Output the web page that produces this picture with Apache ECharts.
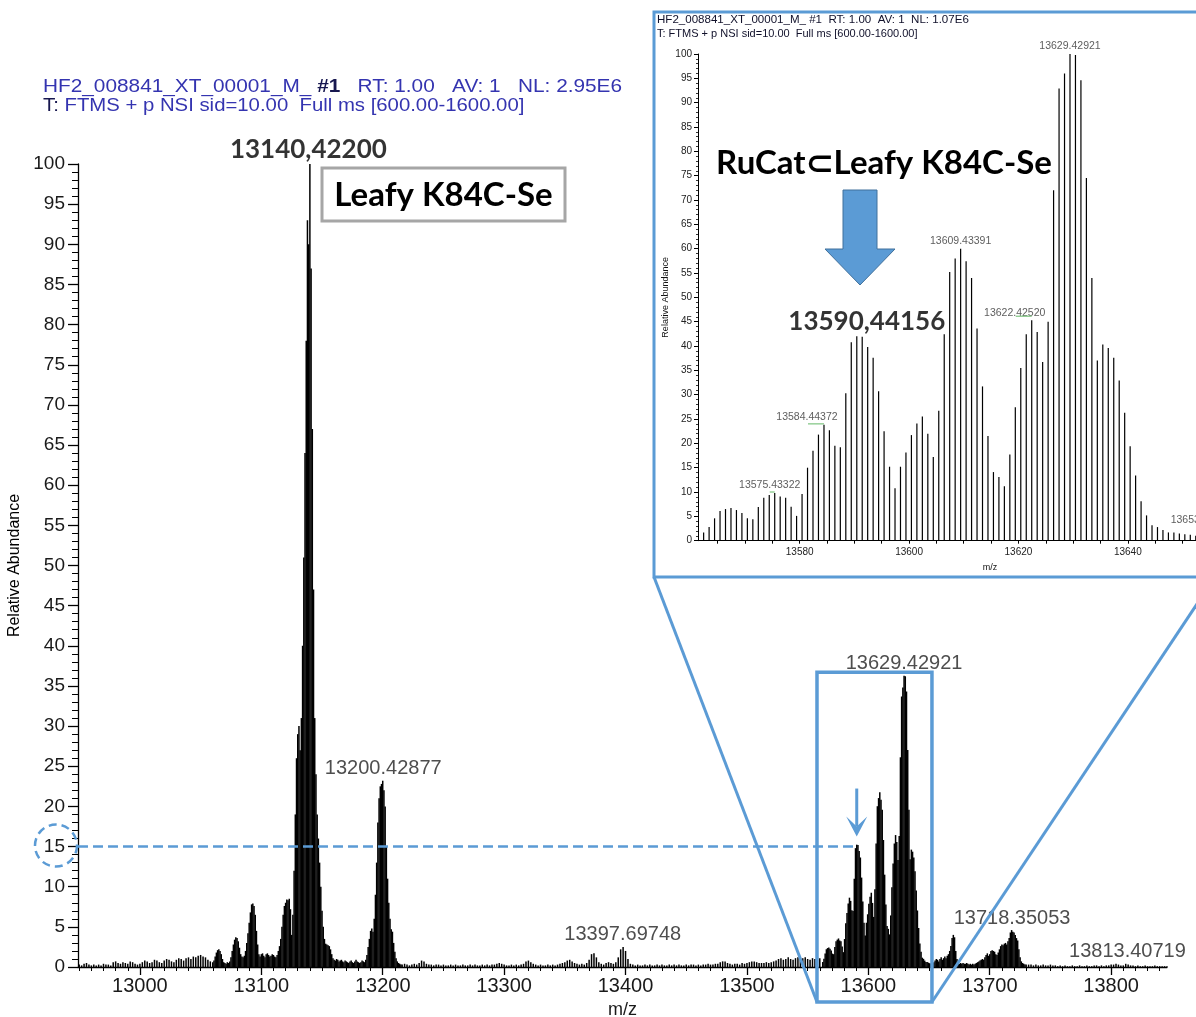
<!DOCTYPE html>
<html>
<head>
<meta charset="utf-8">
<script src="https://cdn.jsdelivr.net/npm/echarts@6.0.0/dist/echarts.min.js"></script>
<style>
html,body{margin:0;padding:0;background:#ffffff;}
#chart{width:1196px;height:1017px;}
</style>
</head>
<body>
<div id="chart"></div>
<script>
// ================= DATA =================
const NL_MAIN = 2.95e6;
const NL_INSET = 1.07e6;

const mainXTickLabels = [13000, 13100, 13200, 13300, 13400, 13500, 13600, 13700, 13800];
const insetXTickLabels = [13580, 13600, 13620, 13640];

// main spectrum: left baseline 12950–13058 (every 2)
const leftStart = 12950, leftStep = 2;
const leftI = [0.3,0.2,0.4,0.5,0.3,0.2,0.3,0.2,0.3,0.2,
  0.4,0.3,0.3,0.2,0.6,0.7,0.5,0.4,0.6,0.5,
  0.4,0.7,0.6,0.4,0.3,0.4,0.6,0.8,0.7,0.5,
  0.6,0.9,0.8,0.6,0.5,0.8,1.0,0.9,0.7,0.6,
  0.9,1.1,1.0,0.8,1.1,1.2,1.0,1.3,1.2,1.4,
  1.5,1.3,1.2,0.9,0.7];

// main spectrum: 13060–13215 (every 1)
const clusterAStart = 13060, clusterAStep = 1;
const clusterAI = [0.6,0.8,1.3,1.8,2.1,2.2,2.0,1.6,1.0,0.6,
  0.5,0.4,0.6,0.5,0.7,1.2,2.0,2.8,3.4,3.7,
  3.6,3.2,2.4,1.6,1.3,1.2,1.4,2.0,3.0,4.2,
  5.5,6.8,7.8,7.9,7.6,6.5,4.5,2.8,1.6,1.3,
  1.6,1.7,1.4,1.2,1.6,1.7,1.5,1.3,1.4,1.6,
  1.5,1.3,1.2,1.5,2.0,2.6,3.5,5.0,6.5,7.6,
  8.0,8.4,8.3,8.5,7.2,4.0,6.5,12,19,26,
  29,30,27,31,40,51,64,78,93,90,
  100,87,67,47,31,24,19,16,13,10,
  7,5,3.5,2.9,2.8,2.7,2.6,2.2,1.6,1.1,
  0.9,0.8,1.0,0.9,0.7,0.8,0.9,0.7,0.6,0.8,
  0.7,0.6,0.5,0.7,0.8,0.6,0.5,0.7,0.9,0.7,
  0.6,0.5,0.6,0.8,0.7,0.6,0.9,1.5,2.5,3.5,
  4.5,4.8,4.4,6,9,13,18,21,22.5,22.8,
  23.2,22,20,15,11,8,6,4.7,4.4,3,
  1.9,1.1,0.7,0.5,0.4,0.3];

// main spectrum: 13216–13560 (every 2)
const midStart = 13216, midStep = 2;
const midI = [0.3,0.4,0.3,0.2,0.3,0.4,0.3,
  0.5,0.8,0.7,0.4,0.3,
  0.3,0.2,0.3,0.3,0.2,0.3,0.2,0.2,0.3,0.2,0.3,0.2,0.2,0.3,0.2,0.2,0.3,0.2,0.3,0.2,0.2,0.3,0.2,0.3,0.2,0.3,
  0.3,0.4,0.5,0.4,0.3,0.2,
  0.2,0.3,0.2,0.3,0.2,0.3,
  0.4,0.7,0.8,0.6,0.4,0.3,
  0.2,0.3,0.2,0.2,0.3,0.2,0.3,0.2,0.3,0.4,0.5,
  0.6,0.8,0.9,0.7,0.5,0.4,
  0.3,0.4,0.3,0.5,
  0.9,1.6,1.7,1.2,0.6,
  0.4,0.3,0.5,0.6,0.5,0.4,0.6,
  1.2,2.2,2.5,2.0,1.0,0.4,
  0.3,0.2,0.3,0.2,0.2,0.3,0.2,0.3,0.2,0.2,0.3,0.2,0.3,0.2,0.2,0.3,0.2,0.3,0.2,0.3,0.2,0.2,0.3,0.2,0.3,0.3,0.2,0.3,0.2,0.3,0.3,0.4,0.3,
  0.3,0.4,0.4,0.6,0.7,0.7,0.5,0.4,0.3,0.4,
  0.4,0.3,0.5,0.4,0.5,
  0.6,0.7,0.7,0.6,0.5,0.5,
  0.5,0.6,0.5,0.6,0.7,
  0.8,1.0,1.1,0.9,1.0,1.2,1.0,0.9,1.1,1.2,1.0,1.1,
  1.2,1.0,0.9,1.1,1.0,1.2,1.1];

// zoomed spectrum (inset, relative to NL 1.07E6)
const insetMz = [13562.43,13563.43,13564.43,13565.43,13566.43,13567.43,13568.43,13569.43,13570.43,13571.43,
  13572.43,13573.43,13574.43,13575.43,13576.43,13577.43,13578.43,13579.43,13580.43,13581.43,
  13582.43,13583.43,13584.44,13585.43,13586.43,13587.43,13588.43,13589.43,13590.44,13591.43,
  13592.43,13593.43,13594.43,13595.43,13596.43,13597.43,13598.43,13599.43,13600.43,13601.43,
  13602.43,13603.43,13604.43,13605.43,13606.43,13607.43,13608.43,13609.43,13610.43,13611.43,
  13612.43,13613.43,13614.43,13615.43,13616.43,13617.43,13618.43,13619.43,13620.43,13621.43,
  13622.43,13623.43,13624.43,13625.43,13626.43,13627.43,13628.43,13629.43,13630.43,13631.43,
  13632.43,13633.43,13634.43,13635.43,13636.43,13637.43,13638.43,13639.43,13640.43,13641.43,
  13642.43,13643.43,13644.43,13645.43,13646.43,13647.43,13648.43,13649.43,13650.43,13651.43,
  13652.43,13653.43,13654.43,13655.43];
const insetI = [1.7,2.8,4.6,6.1,6.5,6.7,6.3,5.7,4.6,4.4,
  6.9,8.8,9.4,9.8,9.1,8.8,7.0,5.1,9.6,15,
  18.5,21.8,23.8,22.7,19.5,19.2,30.3,40.8,42,41.9,
  39.8,37.6,30.7,22.5,15.2,10.8,15.2,18.1,21.7,24.1,
  25.5,22,17.2,26.7,42.4,55.2,58,60,57.4,54,
  43.6,31.7,21.5,14.1,13.1,11.2,17.7,27.4,35.5,42.4,
  45.3,42.9,36.7,45,72,92.9,96,100,99.8,94.6,
  74.5,54,37,40.3,39.6,37.6,32.9,26.3,19.4,13.4,
  8.1,5.2,3.2,2.8,2.2,1.7,1.7,1.5,1.3,1.2,
  1.0,1.1,0.9,0.8];

// main spectrum: 13653–13730 (every 1)
const clusterCStart = 13653, clusterCStep = 1;
const clusterCI = [0.5,0.6,0.8,1.0,0.9,0.7,1.0,1.2,0.9,1.1,
  1.3,1.1,1.4,1.6,2.0,2.6,3.6,4.0,3.7,2.0,
  1.0,0.5,0.4,0.5,0.4,0.5,0.4,0.4,0.5,0.4,
  0.3,0.4,0.3,0.4,0.3,0.4,0.5,0.6,0.7,0.8,
  0.9,1.0,0.9,1.2,1.5,1.7,1.4,1.6,2.0,2.1,
  2.0,1.9,1.6,1.5,1.8,2.2,2.6,2.8,2.7,2.9,
  3.0,2.8,3.2,3.6,4.3,4.6,4.4,4.3,4.0,3.6,
  3.3,2.2,1.2,0.7,0.5,0.4,0.3,0.3];

// main spectrum: right baseline 13732–13846 (every 2)
const rightStart = 13732, rightStep = 2;
const rightI = [0.3,0.3,0.2,0.3,0.2,0.2,0.3,0.2,0.2,0.3,
  0.2,0.2,0.1,0.2,0.1,0.2,0.1,0.1,0.2,0.1,
  0.1,0.2,0.1,0.1,0.2,0.1,0.1,0.2,0.2,0.1,
  0.2,0.1,0.2,0.2,0.3,0.3,0.4,0.3,0.2,0.2,
  0.4,0.3,0.2,0.2,0.1,0.2,0.1,0.1,0.2,0.1,0.1,0.1,0.2,0.1,0.1,0.1,0.1,0.1];

// peak annotations
const mainPeakMz = [13200.43, 13397.70, 13629.43, 13718.35, 13813.41];
const mainPeakI = [23.2, 2.5, 36.3, 4.6, 0.4];
const mainPeakText = ['13200.42877', '13397.69748', '13629.42921', '13718.35053', '13813.40719'];
const mainTopMz = 13140.42, mainTopI = 100, mainTopText = '13140,42200';

const insetPeakMz = [13629.43, 13609.43, 13622.43, 13584.44, 13575.43, 13653.43];
const insetPeakI = [100, 60, 45.3, 23.8, 9.8, 1.1];
const insetPeakText = ['13629.42921', '13609.43391', '13622.42520', '13584.44372', '13575.43322', '13653'];
const insetTopMz = 13590.44, insetTopI = 42, insetTopText = '13590,44156';

const refLevel = 15;     // dashed reference level (main)
const refMz = 13590.44;  // peak the reference line runs to

// ================= CHART =================
const FONT = "'Liberation Sans', Arial, sans-serif";
const BOLD = "Lato, 'Open Sans', sans-serif";
const BLUE = '#5b9bd5';

function seg(start, step, vals) { return vals.map((v, i) => [+(start + i * step).toFixed(2), v]); }
const ratio = NL_INSET / NL_MAIN;
const mainData = [].concat(
  seg(leftStart, leftStep, leftI),
  seg(clusterAStart, clusterAStep, clusterAI),
  seg(midStart, midStep, midI),
  insetMz.map((m, i) => [m, +(insetI[i] * ratio).toFixed(3)]).filter(d => d[0] < clusterCStart),
  seg(clusterCStart, clusterCStep, clusterCI),
  seg(rightStart, rightStep, rightI)
);
const insetData = insetMz.map((m, i) => [m, insetI[i]]);

const mainMinorTicks = [];
for (let v = 12950; v <= 13840; v += 10) mainMinorTicks.push(v);
const insetMinorTicks = [];
for (let v = 13565; v <= 13655; v += 5) insetMinorTicks.push(v);

const MAIN_MIN = 12949, MAIN_MAX = 13846;
const INSET_MIN = 13561.4, INSET_MAX = 13655.4;

const chart = echarts.init(document.getElementById('chart'), null, {renderer: 'canvas', width: 1196, height: 1017});

const axisBlack = {color: '#000', width: 1.3};
const plain = v => String(v);

const option = {
  animation: false,
  backgroundColor: '#ffffff',
  textStyle: {fontFamily: FONT},
  grid: [
    {left: 78, top: 164, width: 1089, height: 803, containLabel: false, outerBoundsMode: 'none'},
    {left: 698, top: 54, width: 514, height: 486.7, containLabel: false, outerBoundsMode: 'none'}
  ],
  xAxis: [
    {
      gridIndex: 0, type: 'value', min: MAIN_MIN, max: MAIN_MAX, position: 'bottom',
      axisLine: {show: true, onZero: false, lineStyle: axisBlack},
      axisTick: {show: true, customValues: mainXTickLabels, length: 8, lineStyle: axisBlack},
      axisLabel: {show: true, customValues: mainXTickLabels, formatter: plain, fontSize: 20, color: '#1a1a1a', margin: 9, fontFamily: FONT},
      splitLine: {show: false},
      name: 'm/z', nameLocation: 'middle', nameGap: 31,
      nameTextStyle: {fontSize: 18, color: '#1a1a1a', fontFamily: FONT}
    },
    {
      gridIndex: 0, type: 'value', min: MAIN_MIN, max: MAIN_MAX, position: 'bottom',
      axisLine: {show: false, onZero: false},
      axisTick: {show: true, customValues: mainMinorTicks, length: 4, lineStyle: {color: '#000', width: 1}},
      axisLabel: {show: false},
      splitLine: {show: false}
    },
    {
      gridIndex: 1, type: 'value', min: INSET_MIN, max: INSET_MAX, position: 'bottom',
      axisLine: {show: true, onZero: false, lineStyle: {color: '#000', width: 1}},
      axisTick: {show: true, customValues: insetMinorTicks, length: 3, lineStyle: {color: '#000', width: 1}},
      axisLabel: {show: true, customValues: insetXTickLabels, formatter: plain, fontSize: 10, color: '#222', margin: 7, fontFamily: FONT},
      splitLine: {show: false}
    }
  ],
  yAxis: [
    {
      gridIndex: 0, type: 'value', min: 0, max: 100, interval: 5,
      axisLine: {show: true, onZero: false, lineStyle: axisBlack},
      axisTick: {show: true, length: 10, lineStyle: axisBlack},
      minorTick: {show: true, splitNumber: 5, length: 6, lineStyle: {color: '#000', width: 1}},
      axisLabel: {fontSize: 19, color: '#1a1a1a', margin: 13, fontFamily: FONT, formatter: plain},
      splitLine: {show: false}, minorSplitLine: {show: false},
      name: 'Relative Abundance', nameLocation: 'middle', nameGap: 52, nameRotate: 90,
      nameTextStyle: {fontSize: 16, color: '#000', fontFamily: FONT}
    },
    {
      gridIndex: 1, type: 'value', min: 0, max: 100, interval: 5,
      axisLine: {show: true, onZero: false, lineStyle: {color: '#000', width: 1}},
      axisTick: {show: true, length: 4, lineStyle: {color: '#000', width: 1}},
      minorTick: {show: true, splitNumber: 5, length: 2, lineStyle: {color: '#000', width: 0.8}},
      axisLabel: {fontSize: 10, color: '#222', margin: 6, fontFamily: FONT, formatter: plain},
      splitLine: {show: false}, minorSplitLine: {show: false},
      name: 'Relative Abundance', nameLocation: 'middle', nameGap: 28, nameRotate: 90,
      nameTextStyle: {fontSize: 9, color: '#111', fontFamily: FONT}
    }
  ],
  series: [
    {
      name: 'main', type: 'bar', xAxisIndex: 0, yAxisIndex: 0, data: mainData,
      barWidth: 1.5, itemStyle: {color: '#000'}, silent: true, z: 2
    },
    {
      name: 'inset', type: 'bar', xAxisIndex: 2, yAxisIndex: 1, data: insetData,
      barWidth: 1.2, itemStyle: {color: '#000'}, silent: true, z: 2
    },
    {
      name: 'refline', type: 'line', xAxisIndex: 0, yAxisIndex: 0,
      data: [[MAIN_MIN, refLevel], [refMz, refLevel]],
      symbol: 'none', silent: true, z: 10,
      lineStyle: {color: BLUE, width: 2.5, type: [10, 5]}
    },
    {
      name: 'mainLabels', type: 'scatter', xAxisIndex: 0, yAxisIndex: 0, symbolSize: 0, silent: true, z: 6,
      data: mainPeakMz.map((m, i) => ({value: [m, mainPeakI[i]], label: {formatter: mainPeakText[i]}})),
      label: {show: true, position: 'top', distance: 2, fontSize: 20, color: '#222', fontFamily: FONT}
    },
    {
      name: 'mainTop', type: 'scatter', xAxisIndex: 0, yAxisIndex: 0, symbolSize: 0, silent: true, z: 6,
      data: [{value: [mainTopMz, mainTopI], label: {formatter: mainTopText}}],
      label: {show: true, position: 'top', distance: 1, offset: [-2, 0], fontSize: 26, fontWeight: 'bold', color: '#000', fontFamily: BOLD}
    },
    {
      name: 'insetLabels', type: 'scatter', xAxisIndex: 2, yAxisIndex: 1, symbolSize: 0, silent: true, z: 6,
      data: insetPeakMz.map((m, i) => ({
        value: [m, insetPeakI[i]],
        label: {formatter: insetPeakText[i], offset: [[0, 0], [0, 0], [-17, 0], [-17, 0], [-5, 0], [-16, -8]][i]}
      })),
      label: {show: true, position: 'top', distance: 2, fontSize: 10.5, color: '#333', fontFamily: FONT}
    },
    {
      name: 'insetTop', type: 'scatter', xAxisIndex: 2, yAxisIndex: 1, symbolSize: 0, silent: true, z: 6,
      data: [{value: [insetTopMz, insetTopI], label: {formatter: insetTopText}}],
      label: {show: true, position: 'top', distance: 2, offset: [10, 0], fontSize: 26, fontWeight: 'bold', color: '#000', fontFamily: BOLD}
    }
  ]
};
chart.setOption(option);

// ---------- annotations (positions derived from the axes) ----------
const M = (x, y) => chart.convertToPixel({xAxisIndex: 0, yAxisIndex: 0}, [x, y]);
const I = (x, y) => chart.convertToPixel({xAxisIndex: 2, yAxisIndex: 1}, [x, y]);

function txt(x, y, text, o) {
  return Object.assign({
    type: 'text', x: x, y: y, z: 50,
    style: Object.assign({text: text, align: 'left', verticalAlign: 'middle', textAlign: 'left', textVerticalAlign: 'middle',
      fontFamily: FONT, fontSize: 12, fill: '#000'}, o.style || {})
  }, o.el || {});
}

const rectL = M(13557.7, 0)[0], rectR = M(13652.4, 0)[0], rectT = M(0, 36.7)[1], rectB = 1002;
const insetBox = {x1: 654, y1: 12, x2: 1215, y2: 577};
const arrowX = M(refMz, refLevel)[0];
const y15 = M(MAIN_MIN, refLevel)[1];
const axisX0 = M(MAIN_MIN, 0)[0];

function leader(mz, inten, dx, dy) {
  const p = I(mz, inten);
  return {type: 'line', z: 40, shape: {x1: p[0] - dx, y1: p[1] - dy, x2: p[0], y2: p[1] - dy},
    style: {stroke: '#7cc47f', lineWidth: 1.2}};
}

const graphics = [
  // main header
  txt(43, 87, '{a|HF2_008841_XT_00001_M_} {b|#1}   {a|RT: 1.00   AV: 1   NL: 2.95E6}', {
    el: {scaleX: 1.095, originX: 0, originY: 0},
    style: {fontSize: 19, rich: {
      a: {fontSize: 19, fontFamily: FONT, fill: '#3434b0'},
      b: {fontSize: 19, fontFamily: FONT, fontWeight: 'bold', fill: '#17174f'}
    }}
  }),
  txt(43, 106, '{b|T:} {a|FTMS + p NSI sid=10.00  Full ms [600.00-1600.00]}', {
    el: {scaleX: 1.07, originX: 0, originY: 0},
    style: {fontSize: 19, rich: {
      a: {fontSize: 19, fontFamily: FONT, fill: '#3434b0'},
      b: {fontSize: 19, fontFamily: FONT, fill: '#17174f'}
    }}
  }),
  // Leafy box
  {type: 'rect', z: 30, shape: {x: 322, y: 168, width: 243, height: 53},
    style: {fill: '#ffffff', stroke: '#a6a6a6', lineWidth: 3}},
  txt(443.5, 195, 'Leafy K84C-Se', {style: {align: 'center', textAlign: 'center', fontFamily: BOLD, fontWeight: 'bold', fontSize: 33, fill: '#000'}}),
  // inset frame
  {type: 'rect', z: 30, shape: {x: insetBox.x1, y: insetBox.y1, width: insetBox.x2 - insetBox.x1, height: insetBox.y2 - insetBox.y1},
    style: {fill: 'none', stroke: BLUE, lineWidth: 3}},
  txt(657, 20, 'HF2_008841_XT_00001_M_ #1  RT: 1.00  AV: 1  NL: 1.07E6', {el: {scaleX: 1.05, originX: 0, originY: 0}, style: {fontSize: 11, fill: '#10102a'}}),
  txt(657, 34, 'T: FTMS + p NSI sid=10.00  Full ms [600.00-1600.00]', {style: {fontSize: 11, fill: '#10102a'}}),
  txt(884, 163, 'RuCat\u2282Leafy K84C-Se', {style: {align: 'center', textAlign: 'center', fontFamily: BOLD, fontWeight: 'bold', fontSize: 33, fill: '#000'}}),
  // block arrow in inset
  {type: 'polygon', z: 30, shape: {points: [[843, 190], [877, 190], [877, 249], [895, 249], [860, 285], [825, 249], [843, 249]]},
    style: {fill: BLUE, stroke: '#41719c', lineWidth: 1}},
  txt(990, 568, 'm/z', {style: {align: 'center', textAlign: 'center', fontSize: 9, fill: '#111'}}),
  leader(13584.44, 23.8, 16, 1),
  leader(13622.43, 45.3, 16, 4),
  leader(13575.43, 9.8, 5, 1),
  // connecting lines
  {type: 'line', z: 35, shape: {x1: insetBox.x1, y1: insetBox.y2, x2: rectL, y2: rectB}, style: {stroke: BLUE, lineWidth: 3}},
  {type: 'line', z: 35, shape: {x1: insetBox.x2, y1: insetBox.y2, x2: rectR, y2: rectB}, style: {stroke: BLUE, lineWidth: 3}},
  // zoom rectangle on main spectrum
  {type: 'rect', z: 35, shape: {x: rectL, y: rectT, width: rectR - rectL, height: rectB - rectT},
    style: {fill: 'none', stroke: BLUE, lineWidth: 3.5}},
  // small arrow
  {type: 'line', z: 35, shape: {x1: arrowX, y1: y15 - 58, x2: arrowX, y2: y15 - 20}, style: {stroke: BLUE, lineWidth: 3}},
  {type: 'polygon', z: 35, shape: {points: [[arrowX - 10.5, y15 - 30], [arrowX, y15 - 10], [arrowX + 10.5, y15 - 30], [arrowX, y15 - 20]]},
    style: {fill: BLUE}},
  // dashed circle around 15
  {type: 'circle', z: 35, shape: {cx: axisX0 - 22, cy: y15 - 1, r: 21},
    style: {fill: 'none', stroke: BLUE, lineWidth: 2.5, lineDash: [8, 5]}}
];
chart.setOption({graphic: graphics});
</script>
</body>
</html>
